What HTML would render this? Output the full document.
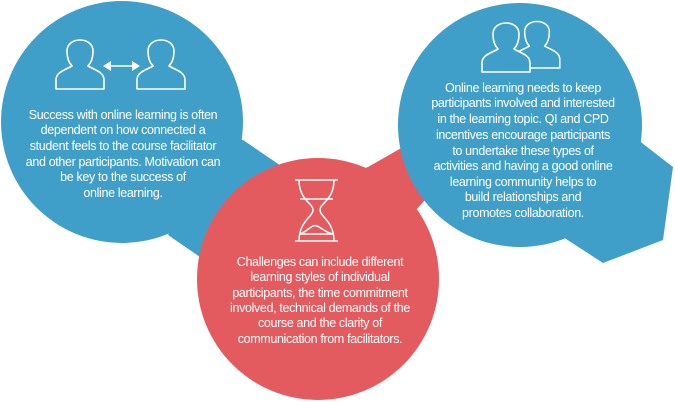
<!DOCTYPE html>
<html><head><meta charset="utf-8"><style>
html,body{margin:0;padding:0;background:#fff;}
svg{display:block;}
text{font-family:"Liberation Sans",sans-serif;font-size:12.5px;fill:#fff;letter-spacing:-0.35px;}
</style></head><body>
<svg width="675" height="402" viewBox="0 0 675 402" xmlns="http://www.w3.org/2000/svg">
<defs>
<path id="person" d="M-24,0 L-24,-9 C-24,-17 -15,-19 -8,-23 C-12,-27 -13,-33 -13,-38 C-13,-45 -7,-49 0,-49 C7,-49 13,-45 13,-38 C13,-33 12,-27 8,-23 C15,-19 24,-17 24,-9 L24,0 Z" fill="none" stroke="#fff" stroke-width="1.6" stroke-linejoin="round"/>
</defs>
<g fill="#409fc9">
<circle cx="122" cy="122" r="121"/>
<polygon points="230,135 243,140 290,172 230,290 200,257 168,235"/>
</g>
<g fill="#e35b5e">
<circle cx="318" cy="279" r="121"/>
<polygon points="330,180 368,167 410,143 425,200 380,250"/>
</g>
<g fill="#409fc9">
<circle cx="520" cy="125" r="122"/>
<polygon points="630,130 642,143 673,167 663,240 603,263 563,237 600,200"/>
</g>
<use href="#person" transform="translate(80,89)"/>
<use href="#person" transform="translate(161,89)"/>
<line x1="110" y1="66" x2="133" y2="66" stroke="#fff" stroke-width="1.6"/>
<polygon points="103,66 111,61 111,71" fill="#fff"/>
<polygon points="140,66 132,61 132,71" fill="#fff"/>
<g transform="translate(537,68) scale(0.95)"><use href="#person"/></g>
<g transform="translate(506,72)">
<path d="M-24,0 L-24,-9 C-24,-17 -15,-19 -8,-23 C-12,-27 -13,-33 -13,-38 C-13,-45 -7,-49 0,-49 C7,-49 13,-45 13,-38 C13,-33 12,-27 8,-23 C15,-19 24,-17 24,-9 L24,0 Z" fill="#409fc9" stroke="#fff" stroke-width="1.6" stroke-linejoin="round"/>
</g>
<g fill="none" stroke="#fff" stroke-width="1.5">
<line x1="295" y1="180" x2="338" y2="180"/>
<line x1="295" y1="241" x2="338" y2="241"/>
<path d="M299,180 C299,200 313,203 313,210 C313,217 299,221 299,241"/>
<path d="M334,180 C334,200 320,203 320,210 C320,217 334,221 334,241"/>
<line x1="300" y1="199" x2="333" y2="199"/>
<path d="M300,234 C308,231 312,224 317,226 C322,228 326,233 333,234"/>
<line x1="299" y1="234" x2="334" y2="234"/>
</g>
<g text-anchor="middle">
<text x="123" y="119">Success with online learning is often</text>
<text x="123" y="134">dependent on how connected a</text>
<text x="123" y="150">student feels to the course facilitator</text>
<text x="123" y="166">and other participants. Motivation can</text>
<text x="123" y="181">be key to the success of</text>
<text x="123" y="197">online learning.</text>

<text x="320" y="266">Challenges can include different</text>
<text x="320" y="281">learning styles of individual</text>
<text x="320" y="297">participants, the time commitment</text>
<text x="320" y="312">involved, technical demands of the</text>
<text x="320" y="327">course and the clarity of</text>
<text x="320" y="343">communication from facilitators.</text>

<text x="523" y="92">Online learning needs to keep</text>
<text x="523" y="107">participants involved and interested</text>
<text x="523" y="123">in the learning topic. QI and CPD</text>
<text x="523" y="139">incentives encourage participants</text>
<text x="523" y="155">to undertake these types of</text>
<text x="523" y="170">activities and having a good online</text>
<text x="523" y="186">learning community helps to</text>
<text x="523" y="201">build relationships and</text>
<text x="523" y="217">promotes collaboration.</text>
</g>
</svg>
</body></html>
